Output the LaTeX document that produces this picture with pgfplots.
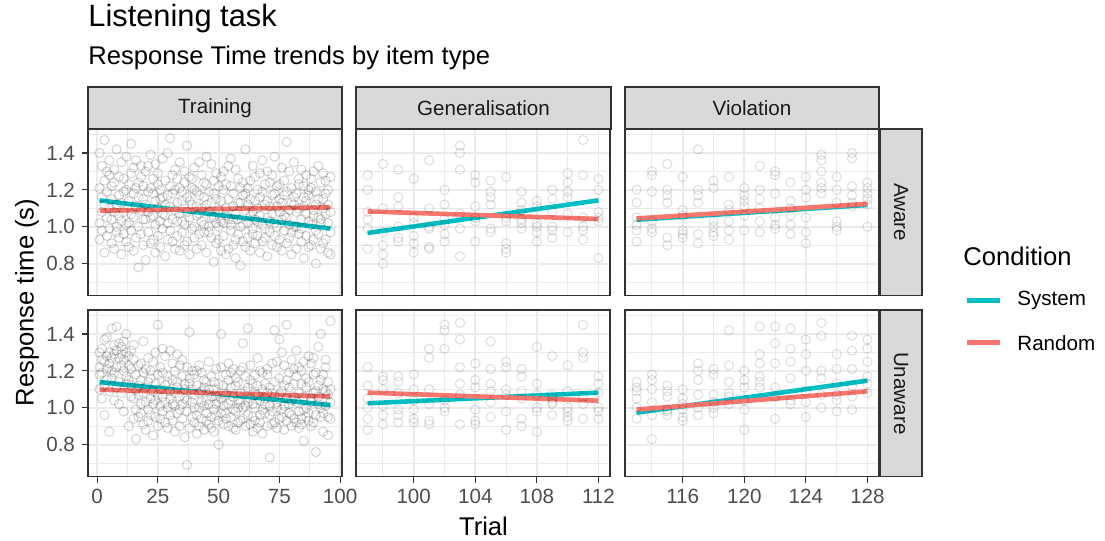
\documentclass[border=0pt]{standalone}
\usepackage{pgfplots}
\usepackage{pgfplotstable}
\pgfplotsset{compat=1.18}
\usepackage{fontspec}
\setmainfont{Liberation Sans}

\definecolor{sys}{HTML}{00BFC4}
\definecolor{rnd}{HTML}{F8766D}
\definecolor{grey92}{RGB}{235,235,235}
\definecolor{grey85}{RGB}{217,217,217}
\definecolor{grey20}{RGB}{51,51,51}
\definecolor{grey30}{RGB}{77,77,77}
\definecolor{grey10}{RGB}{26,26,26}

\newcommand{\smallfont}{\fontsize{10.3}{12}\selectfont}
\newcommand{\midfont}{\fontsize{12.8}{15}\selectfont}
\newcommand{\bigfont}{\fontsize{15.4}{18}\selectfont}

% Training, aware participants: trial and response times
\pgfplotstableread{
t a b c d
1 1.40 1.02 1.21 0.93
2 1.16 1.33 0.98 1.08
3 1.25 0.86 1.12 1.47
4 1.05 1.19 1.30 0.95
5 0.99 1.28 1.10 1.36
6 1.22 0.91 1.04 1.15
7 1.31 1.08 0.88 1.24
8 1.12 1.42 1.00 0.97
9 0.94 1.17 1.27 1.06
10 1.35 1.03 1.13 0.85
11 1.08 1.26 0.96 1.19
12 1.20 0.92 1.38 1.01
13 1.02 1.14 1.23 0.89
14 1.29 0.98 1.07 1.45
15 0.87 1.18 1.32 1.05
16 1.11 1.36 0.94 1.21
17 1.24 1.00 1.16 0.78
18 0.96 1.27 1.09 1.33
19 1.15 0.90 1.22 1.04
20 1.04 1.12 0.82 1.30
21 1.33 0.97 1.19 1.08
22 0.91 1.21 1.05 1.39
23 1.18 1.06 0.93 1.26
24 1.01 1.34 1.14 0.86
25 1.23 0.95 1.29 1.10
26 0.89 1.15 1.03 1.20
27 1.37 1.07 0.99 1.16
28 1.06 1.25 0.84 1.12
29 1.17 0.93 1.40 1.02
30 0.98 1.22 1.11 1.48
31 1.28 1.04 0.92 1.18
32 1.09 1.31 1.20 0.88
33 0.95 1.13 1.03 1.26
34 1.21 0.87 1.35 1.07
35 1.03 1.19 0.97 1.14
36 1.30 1.01 1.24 0.90
37 0.92 1.16 1.08 1.44
38 1.14 1.27 0.85 1.05
39 1.26 0.99 1.12 1.21
40 1.00 1.20 0.94 1.32
41 1.19 0.88 1.06 1.11
42 1.07 1.35 1.17 0.96
43 0.90 1.10 1.28 1.03
44 1.24 0.97 1.01 1.16
45 1.12 1.23 0.86 1.38
46 0.97 1.08 1.19 1.00
47 1.34 0.94 1.05 1.13
48 1.05 1.18 0.81 1.25
49 1.15 0.91 1.29 1.02
50 0.93 1.22 1.00 1.09
51 1.27 1.03 1.14 0.87
52 1.02 1.30 0.95 1.20
53 1.10 0.85 1.23 1.06
54 0.88 1.15 1.04 1.33
55 1.22 0.98 1.37 1.01
56 1.04 1.11 0.90 1.18
57 1.31 0.93 1.07 0.83
58 0.96 1.26 1.13 1.04
59 1.13 1.00 0.79 1.21
60 1.01 1.17 1.24 0.92
61 1.18 0.89 1.09 1.42
62 0.94 1.21 1.02 1.12
63 1.25 1.06 0.87 1.15
64 1.08 0.96 1.33 0.99
65 0.91 1.14 1.04 1.27
66 1.20 1.03 0.95 1.10
67 1.06 1.29 1.16 0.86
68 1.36 0.92 1.01 1.19
69 0.99 1.12 1.23 0.94
70 1.14 1.05 0.84 1.30
71 1.03 1.24 1.11 0.97
72 1.28 0.90 1.07 1.17
73 0.95 1.18 1.38 1.02
74 1.11 1.00 0.89 1.22
75 1.23 1.08 1.15 0.93
76 0.87 1.32 1.04 1.13
77 1.17 0.98 1.25 1.06
78 1.05 1.19 0.91 1.46
79 1.30 0.94 1.09 1.01
80 0.97 1.13 1.21 0.85
81 1.12 1.35 1.00 1.16
82 1.00 0.88 1.18 1.08
83 1.26 1.10 0.96 1.23
84 0.92 1.04 1.31 0.99
85 1.16 1.22 0.83 1.11
86 1.07 0.95 1.14 1.28
87 0.89 1.17 1.03 1.20
88 1.21 1.01 1.26 0.90
89 1.09 1.30 0.93 1.06
90 0.98 1.12 1.19 0.80
91 1.33 0.96 1.05 1.15
92 1.04 1.24 0.88 1.02
93 1.15 0.91 1.29 1.10
94 0.93 1.18 1.07 1.25
95 1.20 1.02 0.86 1.12
96 1.08 1.27 0.97 0.85
}\TrainAware

% Training, unaware participants
\pgfplotstableread{
t a b c d
1 1.30 1.18 1.22 1.10
2 1.19 1.32 1.05 1.26
3 1.25 1.12 1.37 0.96
4 1.38 1.21 1.15 1.28
5 1.09 1.30 1.24 0.87
6 1.27 1.16 1.43 1.20
7 1.34 1.04 1.19 1.29
8 1.22 1.31 1.11 1.44
9 1.14 1.27 1.35 1.02
10 1.29 1.08 1.23 1.33
11 1.36 1.20 0.98 1.26
12 1.17 1.30 1.13 1.40
13 1.23 0.90 1.28 1.15
14 1.31 1.12 1.06 1.21
15 1.05 1.26 1.34 0.94
16 1.18 0.99 1.10 0.83
17 1.12 1.23 0.95 1.07
18 0.97 1.15 1.02 1.24
19 1.08 0.91 1.19 1.36
20 1.21 1.03 0.88 1.11
21 0.99 1.14 1.27 0.93
22 1.16 1.05 0.96 1.20
23 1.02 1.25 1.09 0.85
24 1.30 0.95 1.13 1.04
25 1.07 1.18 0.90 1.45
26 0.94 1.10 1.22 1.01
27 1.19 0.98 1.06 1.32
28 1.03 1.28 0.92 1.12
29 1.14 1.00 1.17 0.89
30 0.96 1.09 1.31 1.05
31 1.24 0.93 1.02 1.15
32 1.01 1.20 0.87 1.08
33 1.11 0.97 1.14 1.29
34 0.90 1.06 1.23 0.99
35 1.17 1.02 0.94 1.26
36 1.05 1.13 0.84 1.10
37 0.98 1.22 1.04 0.69
38 1.13 0.89 1.16 1.41
39 1.03 1.10 0.95 1.20
40 0.92 1.18 1.07 1.00
41 1.20 0.96 1.12 0.86
42 1.00 1.08 0.90 1.23
43 1.09 0.94 1.19 1.03
44 0.88 1.15 1.01 1.11
45 1.14 1.04 0.93 0.97
46 1.02 0.91 1.10 1.25
47 0.95 1.17 1.06 0.89
48 1.10 0.99 0.87 1.14
49 1.06 1.21 0.96 1.02
50 0.93 1.03 1.13 0.80
51 1.22 0.97 1.05 1.40
52 1.01 1.12 0.91 1.08
53 0.97 1.07 1.18 0.94
54 1.15 0.90 1.02 1.24
55 1.04 1.19 0.95 1.11
56 0.89 1.06 1.21 0.99
57 1.12 0.98 0.88 1.16
58 1.00 1.14 1.04 0.92
59 1.08 0.93 1.20 1.03
60 0.94 1.22 1.00 1.35
61 1.17 1.01 0.90 1.09
62 1.03 1.11 1.43 0.96
63 0.91 1.05 1.15 1.23
64 1.13 0.95 1.02 0.87
65 1.00 1.18 0.93 1.07
66 1.07 0.89 1.12 1.27
67 0.96 1.04 1.20 0.92
68 1.19 0.99 0.86 1.10
69 1.02 1.13 0.97 1.05
70 0.90 1.21 1.08 1.18
71 1.11 0.96 1.01 0.73
72 0.98 1.08 1.24 0.91
73 1.06 0.92 1.14 1.42
74 1.25 1.03 0.89 1.00
75 0.94 1.16 1.07 1.37
76 1.09 0.99 1.30 0.95
77 1.01 1.23 0.88 1.12
78 1.15 0.93 1.05 1.45
79 0.97 1.11 1.19 1.02
80 1.04 0.90 1.26 0.96
81 1.21 1.06 0.94 1.13
82 0.92 1.17 1.03 1.31
83 1.08 0.98 1.22 0.89
84 1.13 0.94 0.91 1.20
85 0.99 1.25 1.06 0.82
86 1.16 1.00 1.11 0.95
87 0.93 1.14 0.97 1.28
88 1.05 0.90 1.24 1.03
89 1.27 1.08 0.92 1.18
90 0.96 1.19 1.09 0.76
91 1.12 1.02 1.33 1.06
92 1.00 1.15 0.95 1.40
93 1.18 0.97 1.10 0.87
94 1.09 1.26 1.01 1.22
95 0.95 1.07 1.14 0.85
96 1.10 1.03 0.94 1.47
}\TrainUnaware

% Generalisation, aware
\pgfplotstableread{
t a b c d e f
97 1.28 1.20 1.08 1.04 0.99 0.88
98 1.34 1.10 0.97 0.90 0.85 0.80
99 1.31 1.16 1.11 1.00 0.94 0.92
100 1.26 1.05 0.95 0.91 0.86 1.02
101 1.36 1.10 1.00 0.88 0.89 0.99
102 1.20 1.12 1.04 1.01 0.96 0.92
103 1.44 1.40 1.31 1.07 0.99 0.84
104 1.28 1.24 1.05 1.03 0.92 1.11
105 1.25 1.19 1.16 1.12 0.99 0.97
106 1.27 1.05 1.03 0.86 0.88 0.91
107 1.19 1.13 1.09 1.04 0.99 1.02
108 1.11 1.02 1.00 0.97 0.92 1.14
109 1.20 1.15 1.00 0.98 0.94 1.08
110 1.29 1.24 1.19 1.16 0.97 1.07
111 1.47 1.28 1.05 1.00 0.93 0.98
112 1.26 1.20 1.08 1.05 1.03 0.83
}\GenAware

% Generalisation, unaware
\pgfplotstableread{
t a b c d e f
97 1.22 1.12 1.05 1.00 0.94 0.88
98 1.15 1.10 1.01 0.96 0.91 1.17
99 1.17 1.14 0.99 0.96 0.92 1.08
100 1.18 1.10 1.04 0.99 0.94 0.92
101 1.32 1.27 1.10 1.02 0.93 0.91
102 1.45 1.42 1.32 1.04 0.98 1.00
103 1.46 1.37 1.22 1.13 1.07 0.91
104 1.24 1.15 1.11 0.99 0.93 0.91
105 1.36 1.21 1.13 1.09 1.03 0.95
106 1.25 1.22 1.10 1.07 0.98 0.88
107 1.21 1.17 1.09 1.05 0.94 0.90
108 1.33 1.13 1.07 1.00 0.98 0.87
109 1.28 1.07 1.05 1.03 0.96 1.02
110 1.23 1.09 1.00 0.98 0.95 0.93
111 1.45 1.30 1.27 1.06 1.02 0.94
112 1.17 1.13 1.08 1.00 0.98 0.94
}\GenUnaware

% Violation, aware
\pgfplotstableread{
t a b c d e f
113 1.20 1.13 1.05 1.01 0.98 0.92
114 1.30 1.28 1.19 1.03 0.99 0.97
115 1.34 1.20 1.17 1.13 0.94 0.90
116 1.27 1.09 1.06 0.98 0.96 0.94
117 1.42 1.20 1.17 1.13 0.96 0.91
118 1.25 1.21 1.03 1.00 0.97 0.95
119 1.27 1.12 1.09 1.03 0.98 0.93
120 1.21 1.17 1.11 1.06 0.98 1.14
121 1.33 1.20 1.15 1.10 1.03 0.97
122 1.30 1.28 1.18 1.05 1.01 0.99
123 1.24 1.10 1.06 1.01 0.96 1.14
124 1.27 1.20 1.16 1.05 0.97 0.91
125 1.39 1.36 1.30 1.24 1.21 1.18
126 1.27 1.20 1.13 1.03 1.00 0.98
127 1.40 1.37 1.22 1.17 1.13 1.11
128 1.24 1.21 1.18 1.15 1.12 1.00
}\ViolAware

% Violation, unaware
\pgfplotstableread{
t a b c d e f
113 1.14 1.11 1.09 1.05 1.00 0.94
114 1.18 1.15 1.10 1.03 0.96 0.83
115 1.12 1.09 1.06 0.99 0.98 0.96
116 1.10 1.05 1.02 0.99 0.95 0.93
117 1.24 1.20 1.15 1.07 1.00 0.96
118 1.21 1.18 1.07 1.03 1.00 0.97
119 1.42 1.23 1.14 1.08 1.06 1.02
120 1.20 1.15 1.11 1.04 0.99 0.88
121 1.44 1.29 1.24 1.17 1.14 1.11
122 1.44 1.35 1.24 1.11 1.06 0.94
123 1.43 1.32 1.25 1.16 1.04 1.02
124 1.37 1.29 1.20 1.09 1.03 0.95
125 1.46 1.39 1.20 1.16 1.07 1.00
126 1.29 1.21 1.13 1.07 1.04 0.98
127 1.39 1.31 1.21 1.12 1.06 0.99
128 1.37 1.32 1.25 1.17 1.13 1.08
}\ViolUnaware

\pgfplotsset{
  facet/.style={
    scale only axis, width=127pt, height=83.25pt, anchor=north west,
    ymin=0.627, ymax=1.53,
    ytick={0.8,1.0,1.2,1.4}, minor ytick={0.7,0.9,1.1,1.3,1.5},
    grid=both,
    major grid style={draw=grey92, line width=0.9pt},
    minor grid style={draw=grey92, line width=0.45pt},
    axis line style={draw=grey20, line width=0.8pt},
    tick pos=left, tick align=outside,
    major tick length=3pt, minor tick length=0pt,
    tick style={draw=grey20, line width=0.55pt},
    tick label style={font=\smallfont, text=grey30},
    /pgf/number format/assume math mode=true,
    yticklabel style={/pgf/number format/.cd, fixed, fixed zerofill, precision=1},
    xticklabel style={/pgf/number format/.cd, fixed, precision=0, 1000 sep={}},
    clip=true,
  },
  train x/.style={xmin=-3.75, xmax=100.75, xtick={0,25,50,75,100}, minor xtick={12.5,37.5,62.5,87.5}},
  gen x/.style={xmin=96.25, xmax=112.75, xtick={100,104,108,112}, minor xtick={98,102,106,110}},
  viol x/.style={xmin=112.25, xmax=128.75, xtick={116,120,124,128}, minor xtick={114,118,122,126}},
  no x labels/.style={xticklabels={}, xtick style={draw=none}},
  no y labels/.style={yticklabels={}, ytick style={draw=none}},
  pts/.style={only marks, mark=o, mark size=2.3pt, forget plot,
    mark options={draw=black, draw opacity=#1, line width=0.5pt}},
  pts/.default=0.13,
  fit/.style={no markers, line width=2.3pt, forget plot},
}

\begin{document}
\begin{tikzpicture}
% page frame
\path[use as bounding box] (0,0) rectangle (552.5pt,-270.5pt);

% ---- row 1: aware
\begin{axis}[facet, train x, no x labels, at={(44pt,-64.5pt)}]
  \pgfplotsinvokeforeach{a,b,c,d}{\addplot[pts=0.17] table[x=t, y=#1]{\TrainAware};}
  \addplot[fit, sys] coordinates {(1,1.143) (96,0.990)};
  \addplot[fit, rnd] coordinates {(1,1.087) (96,1.105)};
\end{axis}
\begin{axis}[facet, gen x, no x labels, no y labels, at={(178pt,-64.5pt)}]
  \pgfplotsinvokeforeach{a,b,c,d,e,f}{\addplot[pts] table[x=t, y=#1]{\GenAware};}
  \addplot[fit, sys] coordinates {(97,0.966) (112,1.143)};
  \addplot[fit, rnd] coordinates {(97,1.083) (112,1.042)};
\end{axis}
\begin{axis}[facet, viol x, no x labels, no y labels, at={(312.5pt,-64.5pt)}]
  \pgfplotsinvokeforeach{a,b,c,d,e,f}{\addplot[pts] table[x=t, y=#1]{\ViolAware};}
  \addplot[fit, sys] coordinates {(113,1.038) (128,1.118)};
  \addplot[fit, rnd] coordinates {(113,1.045) (128,1.124)};
\end{axis}

% ---- row 2: unaware
\begin{axis}[facet, train x, at={(44pt,-155pt)}]
  \pgfplotsinvokeforeach{a,b,c,d}{\addplot[pts=0.17] table[x=t, y=#1]{\TrainUnaware};}
  \addplot[fit, sys] coordinates {(1,1.139) (96,1.014)};
  \addplot[fit, rnd] coordinates {(1,1.098) (96,1.061)};
\end{axis}
\begin{axis}[facet, gen x, no y labels, at={(178pt,-155pt)}]
  \pgfplotsinvokeforeach{a,b,c,d,e,f}{\addplot[pts] table[x=t, y=#1]{\GenUnaware};}
  \addplot[fit, sys] coordinates {(97,1.024) (112,1.082)};
  \addplot[fit, rnd] coordinates {(97,1.082) (112,1.038)};
\end{axis}
\begin{axis}[facet, viol x, no y labels, at={(312.5pt,-155pt)}]
  \pgfplotsinvokeforeach{a,b,c,d,e,f}{\addplot[pts] table[x=t, y=#1]{\ViolUnaware};}
  \addplot[fit, sys] coordinates {(113,0.973) (128,1.147)};
  \addplot[fit, rnd] coordinates {(113,0.990) (128,1.089)};
\end{axis}

% strips, titles and legend (one unit = one pixel of the 1105 x 541 page)
\begin{scope}[x=0.5pt, y=-0.5pt]
  \tikzset{strip/.style={fill=grey85, draw=grey20, line width=0.55pt}}
  \draw[strip] (88,87) rectangle (342,129);
  \draw[strip] (356,87) rectangle (611,129);
  \draw[strip] (625,87) rectangle (879,129);
  \draw[strip] (880.5,129) rectangle (922,295.5);
  \draw[strip] (880.5,310) rectangle (922,476.5);
  \node[font=\smallfont, text=grey10] at (215,108) {Training};
  \node[font=\smallfont, text=grey10] at (483.5,108) {Generalisation};
  \node[font=\smallfont, text=grey10] at (752,108) {Violation};
  \node[font=\smallfont, text=grey10, rotate=-90] at (901,212.3) {Aware};
  \node[font=\smallfont, text=grey10, rotate=-90] at (901,393.3) {Unaware};

  \node[font=\bigfont, anchor=base west, inner sep=0pt] at (88,26.7) {Listening task};
  \node[font=\midfont, anchor=base west, inner sep=0pt] at (88,64) {Response Time trends by item type};
  \node[font=\midfont, anchor=base, inner sep=0pt] at (483.5,535) {Trial};
  \node[font=\midfont, rotate=90, inner sep=0pt] at (27,302.5) {Response time (s)};

  \node[font=\midfont, anchor=base west, inner sep=0pt] at (963,265) {Condition};
  \draw[sys, line width=2.3pt] (967,300.7) -- (1000,300.7);
  \draw[rnd, line width=2.3pt] (967,342.7) -- (1000,342.7);
  \node[font=\smallfont, anchor=west, inner sep=0pt] at (1017,300.7) {System};
  \node[font=\smallfont, anchor=west, inner sep=0pt] at (1017,342.7) {Random};
\end{scope}
\end{tikzpicture}
\end{document}
